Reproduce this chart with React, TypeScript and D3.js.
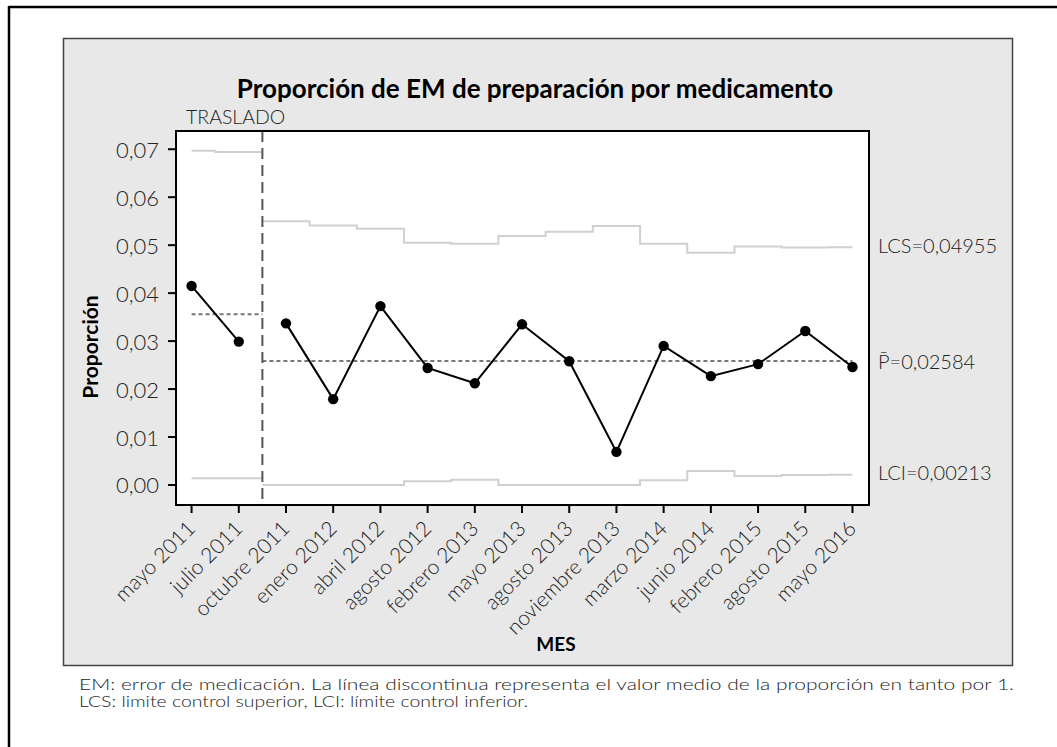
import React from 'react';
import * as d3 from 'd3';

// meses muestreados
const months = [
  'mayo 2011', 'julio 2011', 'octubre 2011', 'enero 2012', 'abril 2012',
  'agosto 2012', 'febrero 2013', 'mayo 2013', 'agosto 2013', 'noviembre 2013',
  'marzo 2014', 'junio 2014', 'febrero 2015', 'agosto 2015', 'mayo 2016',
];
// proporción de EM por mes
const proportion = [
  0.0415, 0.0299, 0.0337, 0.0179, 0.0373, 0.0244, 0.0212, 0.0335,
  0.0258, 0.0069, 0.0290, 0.0227, 0.0252, 0.0321, 0.0246,
];
// límite control superior / inferior (por mes)
const ucl = [
  0.0697, 0.0694, 0.0550, 0.0541, 0.0534, 0.0505, 0.0503, 0.0519,
  0.0528, 0.0540, 0.0503, 0.0484, 0.0497, 0.0495, 0.04955,
];
const lcl = [
  0.0014, 0.0014, 0, 0, 0, 0.0008, 0.0011, 0,
  0, 0, 0.0010, 0.0029, 0.0019, 0.0021, 0.00213,
];
// media de cada fase (antes / después del traslado)
const centerLine = [0.0356, 0.02584];
const phaseStart = [0, 2];
const yTicks = [0, 0.01, 0.02, 0.03, 0.04, 0.05, 0.06, 0.07];
const limitLabels = ['LCS=0,04955', 'P\u0304=0,02584', 'LCI=0,00213'];
const limitLabelValues = [0.04955, 0.02584, 0.00213];
const footnote = [
  'EM: error de medicación. La línea discontinua representa el valor medio de la proporción en tanto por 1.',
  'LCS: limite control superior, LCI: límite control inferior.',
];

const W = 1057;
const H = 747;
const plot = { left: 176, right: 869, top: 131, bottom: 505 };
const FONT = "Lato, 'Noto Sans', sans-serif";

const esLocale = d3.formatLocale({ decimal: ',', thousands: '.', grouping: [3], currency: ['', '€'] });
const fmt = esLocale.format('.2f');

export default function App() {
  const x = d3.scaleLinear().domain([-0.33, 14.35]).range([plot.left, plot.right]);
  const y = d3.scaleLinear().domain([-0.00417, 0.0738]).range([plot.bottom, plot.top]);

  const line = d3.line<[number, number]>()
    .x(d => x(d[0]))
    .y(d => y(d[1]));
  const stepLine = d3.line<[number, number]>()
    .x(d => x(d[0]))
    .y(d => y(d[1]))
    .curve(d3.curveStepAfter);

  // tramos de cada fase
  const phases = phaseStart.map((s, k) => {
    const e = k + 1 < phaseStart.length ? phaseStart[k + 1] - 1 : months.length - 1;
    const start = k === 0 ? s : s - 0.5;
    return { s, e, start, end: e === months.length - 1 ? e : e + 0.5 };
  });

  const stepPts = (vals: number[], p: any): [number, number][] => {
    const pts: [number, number][] = [[p.start, vals[p.s]]];
    for (let i = p.s + 1; i <= p.e; i++) pts.push([i - 0.5, vals[i]]);
    pts.push([p.end, vals[p.e]]);
    return pts;
  };

  const breakX = x(phaseStart[1] - 0.5);

  return (
    <svg width={W} height={H} style={{ position: 'absolute', left: 0, top: 0, background: '#fff' }}
      fontFamily={FONT}>
      {/* marco exterior */}
      <line x1={9} y1={7} x2={W} y2={7} stroke="#000" strokeWidth={2.5} />
      <line x1={9} y1={6} x2={9} y2={H} stroke="#000" strokeWidth={2.5} />

      {/* panel gris */}
      <rect x={63.5} y={38.5} width={949} height={627} fill="#e8e8e8" stroke="#444" strokeWidth={1.5} />
      <rect x={plot.left} y={plot.top} width={plot.right - plot.left} height={plot.bottom - plot.top}
        fill="#fff" />

      <text x={535} y={88} textAnchor="middle" dominantBaseline="central" fontWeight={700} fontSize={26}>
        Proporción de EM de preparación por medicamento
      </text>

      {/* límites de control */}
      {phases.map((p, k) => (
        <g key={k}>
          <path d={stepLine(stepPts(ucl, p)) || ''} fill="none" stroke="#d0d0d0" strokeWidth={2} />
          <path d={stepLine(stepPts(lcl, p)) || ''} fill="none" stroke="#d0d0d0" strokeWidth={2} />
          <line x1={x(p.start)} x2={x(p.end)} y1={y(centerLine[k])} y2={y(centerLine[k])}
            stroke="#777" strokeWidth={2} strokeDasharray="4,3" />
        </g>
      ))}

      {/* traslado */}
      <line x1={breakX} x2={breakX} y1={plot.top} y2={plot.bottom} stroke="#555" strokeWidth={2}
        strokeDasharray="11,6" />
      <text x={186} y={124} fontSize={19.5} fontWeight={300} fill="#222">TRASLADO</text>

      {/* serie */}
      {phases.map((p, k) => (
        <path key={k}
          d={line(proportion.slice(p.s, p.e + 1).map((v, i) => [p.s + i, v] as [number, number])) || ''}
          fill="none" stroke="#000" strokeWidth={2} />
      ))}
      {proportion.map((v, i) => (
        <circle key={i} cx={x(i)} cy={y(v)} r={5.2} fill="#000" />
      ))}

      <rect x={plot.left} y={plot.top} width={plot.right - plot.left} height={plot.bottom - plot.top}
        fill="none" stroke="#000" strokeWidth={2} />

      {/* eje Y */}
      {yTicks.map(t => (
        <g key={t}>
          <line x1={plot.left - 8} x2={plot.left} y1={y(t)} y2={y(t)} stroke="#000" strokeWidth={2} />
          <text x={159} y={y(t)} textAnchor="end" dominantBaseline="central" fontSize={22}
            fontWeight={300} fill="#222">{fmt(t)}</text>
        </g>
      ))}
      <text transform={`translate(89,347) rotate(-90)`} textAnchor="middle" dominantBaseline="central"
        fontWeight={700} fontSize={21}>Proporción</text>

      {/* eje X */}
      {months.map((m, i) => (
        <g key={m}>
          <line x1={x(i)} x2={x(i)} y1={plot.bottom} y2={plot.bottom + 8} stroke="#000" strokeWidth={2} />
          <text transform={`translate(${x(i) + 5},530) rotate(-45)`} textAnchor="end" fontSize={21}
            fontWeight={300} fill="#222">{m}</text>
        </g>
      ))}
      <text x={556} y={643} textAnchor="middle" dominantBaseline="central" fontWeight={700}
        fontSize={19}>MES</text>

      {/* etiquetas de límites */}
      {limitLabels.map((l, i) => (
        <text key={l} x={878} y={y(limitLabelValues[i]) - (i === 0 ? 2 : i === 2 ? 3 : 0)}
          dominantBaseline="central" fontSize={20} fontWeight={300} fill="#222">{l}</text>
      ))}

      {/* nota al pie */}
      <text x={79} y={690} fontSize={16.5} fontWeight={300} fill="#222" textLength={935}
        lengthAdjust="spacingAndGlyphs">{footnote[0]}</text>
      <text x={79} y={707} fontSize={16.5} fontWeight={300} fill="#222" textLength={449}
        lengthAdjust="spacingAndGlyphs">{footnote[1]}</text>
    </svg>
  );
}
